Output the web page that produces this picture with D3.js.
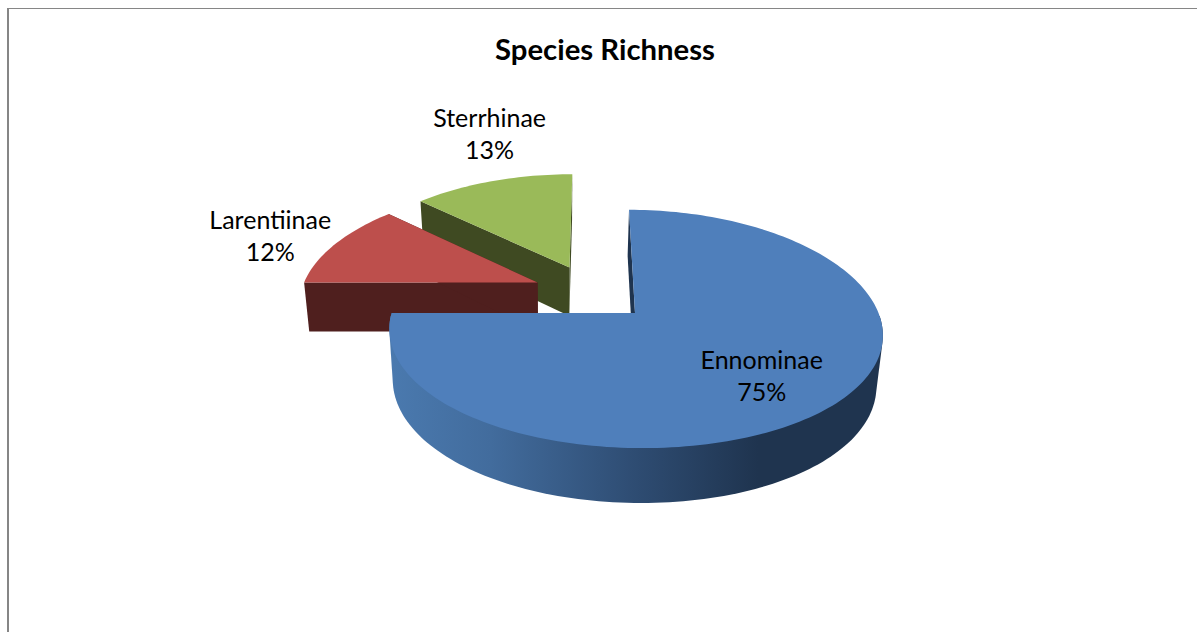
<!DOCTYPE html>
<html><head><meta charset="utf-8">
<style>html,body{margin:0;padding:0;background:#fff;overflow:hidden}svg{display:block}</style>
<script src="https://cdn.jsdelivr.net/npm/d3@7/dist/d3.min.js"></script>
</head><body><div id="chart"></div>
<script>
const categories = ["Ennominae", "Larentiinae", "Sterrhinae"];
const values = [75, 12, 13];
const percentLabels = ["75%", "12%", "13%"];
const topColors = ["#4f7fbb", "#bd4f4c", "#9aba59"];
const wallColors = ["#1f344f", "#4f1f1e", "#3f4a22"];

// Layout configuration (disc coordinates: u to the right, v toward the viewer)
const W = 1197, H = 632;
const explode = [[0, 0], [-0.41, -0.27], [-0.275, -0.41]];
const labelAnchors = [[0.465, 0.5], [-1.65, -0.72], [-0.725, -1.925]];
const originX = 635, originY = 313, radiusX = 243.5, radiusY = 117;
const perspY = 0.134, perspX = 0.16, shear = 0.058, depth = 50.1, depthPow = 0.64, lowerScale = 0.98;

const project = (u, v, lower) => {
  const sy = 1 / (1 - perspY * v), sx = 1 / (1 - perspX * v);
  const dy = radiusY * v * sy;
  let dx = radiusX * u * sx + shear * dy;
  if (lower) dx = dx * lowerScale - 1.5;
  return [originX + dx, originY + dy + (lower ? depth * Math.pow(sy, depthPow) : 0)];
};

const svg = d3.select("#chart").append("svg").attr("width", W).attr("height", H);
svg.append("rect").attr("width", W).attr("height", H).attr("fill", "#fff");
svg.append("path").attr("d", `M8,${H} V8.5 H${W}`).attr("fill", "none").attr("stroke", "#868686").attr("stroke-width", 1);
svg.append("rect").attr("x", 7).attr("y", 8).attr("width", 2).attr("height", H - 8).attr("fill", "#868686");

svg.append("text").attr("x", 605).attr("y", 60).attr("text-anchor", "middle")
  .attr("font-family", "Lato, sans-serif").attr("font-weight", 700).attr("font-size", 29.3)
  .attr("fill", "#000").text("Species Richness");

const defs = svg.append("defs");
const grad = defs.append("linearGradient").attr("id", "blueWall")
  .attr("gradientUnits", "userSpaceOnUse").attr("x1", 393).attr("x2", 880).attr("y1", 0).attr("y2", 0);
[[0, "#4a79ae"], [0.2, "#426c9d"], [0.5, "#2e4c72"], [0.75, "#1f344f"], [1, "#1f344f"]]
  .forEach(([o, c]) => grad.append("stop").attr("offset", o).attr("stop-color", c));

const pie = d3.pie().sort(null).startAngle(0).endAngle(2 * Math.PI);
const arcs = pie(values);
const line = d3.line();
const angles = d => {
  const n = Math.max(8, Math.ceil((d.endAngle - d.startAngle) * 40));
  return d3.range(n + 1).map(k => d.startAngle + (d.endAngle - d.startAngle) * k / n);
};
const ringPts = (as, i, lower) => as.map(a => project(explode[i][0] + Math.sin(a), explode[i][1] - Math.cos(a), lower));

// Painter's order: far slices first, the large slice last.
[2, 1, 0].forEach(i => {
  const d = arcs[i];
  const [ou, ov] = explode[i];
  const g = svg.append("g").attr("class", "slice").attr("data-name", categories[i]);
  const as = angles(d);
  const upper = ringPts(as, i, false), lowerPts = ringPts(as, i, true);
  const apexT = project(ou, ov, false), apexB = project(ou, ov, true);
  // radial walls
  [[upper[0], lowerPts[0]], [upper[upper.length - 1], lowerPts[lowerPts.length - 1]]].forEach(([a, b]) => {
    g.append("path").attr("d", line([apexT, a, b, apexB]) + "Z").attr("fill", wallColors[i]);
  });
  // outer wall: only the part of the rim that faces the viewer, as a filled silhouette
  const front = as.filter(a => Math.cos(a) < -0.01);
  if (front.length > 2) {
    const hull = d3.polygonHull(ringPts(front, i, false).concat(ringPts(front, i, true)));
    g.append("path").attr("d", line(hull) + "Z").attr("fill", i === 0 ? "url(#blueWall)" : wallColors[i]);
  }
  // top face
  g.append("path").attr("d", line([apexT].concat(upper)) + "Z").attr("fill", topColors[i]);
});

categories.forEach((c, i) => {
  const [x, y] = project(labelAnchors[i][0], labelAnchors[i][1], false);
  const t = svg.append("text").attr("text-anchor", "middle")
    .attr("font-family", "Lato, sans-serif").attr("font-size", 25).attr("fill", "#000");
  t.append("tspan").attr("x", x).attr("y", y - 7).text(c);
  t.append("tspan").attr("x", x).attr("y", y + 25).text(percentLabels[i]);
});
</script></body></html>
